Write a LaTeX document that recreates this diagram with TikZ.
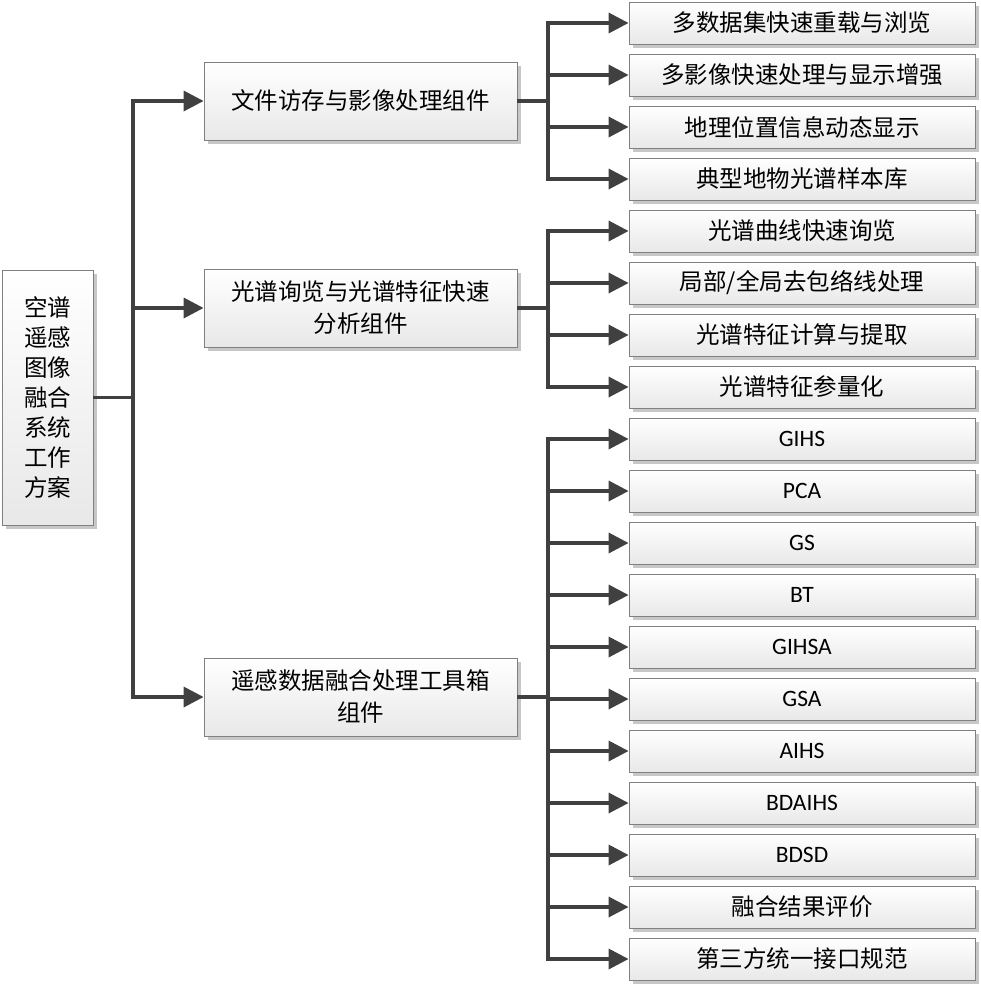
\documentclass[tikz,border=0pt]{standalone}
\usepackage{fontspec}
\setmainfont{Carlito}
\newfontfamily\cjk{Noto Sans CJK SC}
\usetikzlibrary{arrows.meta,shadows}
\definecolor{linkgray}{HTML}{404040}
\tikzset{
  box/.style={draw=black!50, line width=0.8pt, top color=white, bottom color=black!9,
    drop shadow={shadow xshift=4pt, shadow yshift=-4pt, fill=black!22, opacity=1},
    inner sep=0pt, align=center, font=\fontsize{23.5}{32}\selectfont\cjk},
  rootbox/.style={box, minimum width=91pt, minimum height=255pt, font=\fontsize{23.5}{30}\selectfont\cjk},
  midbox/.style={box, minimum width=313pt, minimum height=78pt},
  leafbox/.style={box, minimum width=346pt, minimum height=42pt},
  link/.style={draw=linkgray, line width=3.5pt},
  arrowlink/.style={link, -{Triangle[length=20pt,width=20pt]}}
}
\begin{document}
\begin{tikzpicture}[x=1pt, y=-1pt]
			%%%%% START %%%%%
			\useasboundingbox (0, 0) rectangle (981, 986);
			
			\node[rootbox] (root) at (47.5, 397.5) {空谱\\遥感\\图像\\融合\\系统\\工作\\方案};
			
			\node[midbox] (fileio) at (360.5, 101) {文件访存与影像处理组件};
			\node[midbox] (spectra) at (360.5, 308) {光谱询览与光谱特征快速\\分析组件};
			\node[midbox] (fusion) at (360.5, 697) {遥感数据融合处理工具箱\\组件};
			
			\foreach \k/\name/\txt in {0/fa/{多数据集快速重载与浏览}, 1/fb/{多影像快速处理与显示增强},
				2/fc/{地理位置信息动态显示}, 3/fd/{典型地物光谱样本库},
				4/sa/{光谱曲线快速询览}, 5/sb/{局部/全局去包络线处理},
				6/sc/{光谱特征计算与提取}, 7/sd/{光谱特征参量化},
				8/ga/{\rmfamily GIHS}, 9/gb/{\rmfamily PCA}, 10/gc/{\rmfamily GS}, 11/gd/{\rmfamily BT},
				12/ge/{\rmfamily GIHSA}, 13/gf/{\rmfamily GSA}, 14/gg/{\rmfamily AIHS},
				15/gh/{\rmfamily BDAIHS}, 16/gi/{\rmfamily BDSD},
				17/gj/{融合结果评价}, 18/gk/{第三方统一接口规范}}
				\node[leafbox] (\name) at (802, 23+52*\k) {\txt};
			
			% root to components
			\coordinate (rootfork) at (133, 397.5);
			\draw[link] (root.east) -- (rootfork);
			\draw[arrowlink] (rootfork) |- (fileio.west);
			\draw[arrowlink] (rootfork) |- (spectra.west);
			\draw[arrowlink] (rootfork) |- (fusion.west);
			
			% components to leaves
			\coordinate (filefork) at (548, 101);
			\draw[link] (fileio.east) -- (filefork);
			\foreach \name in {fa,fb,fc,fd}
				\draw[arrowlink] (filefork) |- (\name.west);
			
			\coordinate (specfork) at (548, 308);
			\draw[link] (spectra.east) -- (specfork);
			\foreach \name in {sa,sb,sc,sd}
				\draw[arrowlink] (specfork) |- (\name.west);
			
			\coordinate (fusefork) at (548, 697);
			\draw[link] (fusion.east) -- (fusefork);
			\foreach \name in {ga,gb,gc,gd,ge,gf,gg,gh,gi,gj,gk}
				\draw[arrowlink] (fusefork) |- (\name.west);
			
			%%%%% END %%%%%
\end{tikzpicture}
\end{document}
